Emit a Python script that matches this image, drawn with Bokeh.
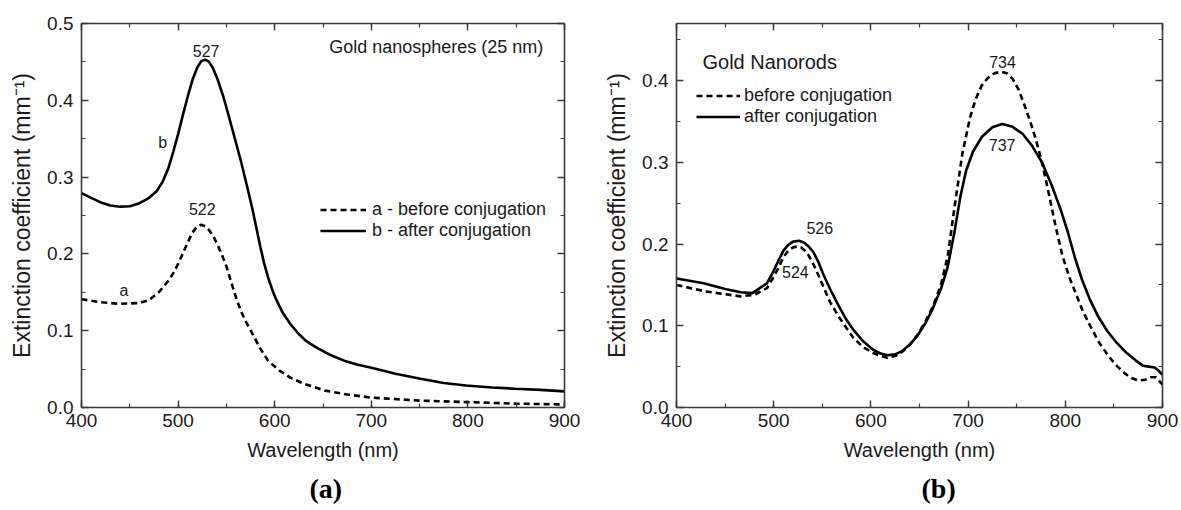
from bokeh.plotting import figure
from bokeh.layouts import row
from bokeh.models import (LinearAxis, SingleIntervalTicker, NumeralTickFormatter,
                          CustomJSTickFormatter, Label, Legend, LegendItem, Title)
from bokeh.embed import file_html
from bokeh.resources import INLINE

# ---------------- data: panel (a) gold nanospheres ----------------
a_before_wl = [400, 420, 440, 460, 470, 480, 490, 495, 500, 505, 510, 515, 520, 524, 528, 532,
               536, 540, 545, 550, 555, 561, 566, 570, 577, 585, 593, 605, 616, 630, 652, 675,
               699, 750, 800, 850, 900]
a_before_y = [0.141, 0.137, 0.135, 0.136, 0.140, 0.150, 0.165, 0.175, 0.187, 0.201, 0.215,
              0.228, 0.236, 0.238, 0.236, 0.231, 0.224, 0.214, 0.200, 0.184, 0.163, 0.139,
              0.123, 0.112, 0.096, 0.077, 0.061, 0.048, 0.039, 0.031, 0.022, 0.017, 0.013,
              0.009, 0.007, 0.005, 0.004]
a_after_wl = [400, 410, 420, 430, 440, 450, 460, 470, 478, 484, 490, 495, 500, 505, 510, 515,
              520, 524, 528, 532, 536, 541, 547, 553, 559, 565, 571, 577, 581, 585, 589, 593,
              597, 601, 608, 616, 624, 632, 642, 652, 662, 672, 685, 699, 725, 751, 775, 798,
              825, 849, 875, 900]
a_after_y = [0.279, 0.273, 0.267, 0.263, 0.2615, 0.262, 0.266, 0.273, 0.282, 0.294, 0.312,
             0.333, 0.356, 0.381, 0.405, 0.427, 0.443, 0.451, 0.453, 0.450, 0.442, 0.427,
             0.404, 0.377, 0.349, 0.321, 0.290, 0.258, 0.234, 0.210, 0.188, 0.170, 0.155,
             0.142, 0.124, 0.109, 0.097, 0.087, 0.079, 0.072, 0.066, 0.061, 0.056, 0.052,
             0.044, 0.0375, 0.032, 0.0286, 0.026, 0.0245, 0.023, 0.021]

# ---------------- data: panel (b) gold nanorods ----------------
b_before_wl = [400, 430, 466, 480, 493, 499, 505, 510, 515, 520, 524, 528, 532, 536, 541, 546,
               551, 558, 567, 575, 582, 592, 602, 610, 617, 625, 632, 640, 648, 656, 664, 672,
               679, 686, 694, 702, 708, 714, 720, 727, 734, 740, 746, 752, 758, 764, 770, 776,
               783, 790, 797, 804, 810, 818, 826, 835, 845, 853, 861, 868, 875, 882, 888, 893,
               897, 900]
b_before_y = [0.150, 0.142, 0.136, 0.138, 0.146, 0.158, 0.171, 0.184, 0.192, 0.196, 0.197,
              0.196, 0.192, 0.186, 0.175, 0.162, 0.148, 0.129, 0.111, 0.097, 0.085, 0.074,
              0.067, 0.063, 0.061, 0.063, 0.068, 0.077, 0.089, 0.105, 0.124, 0.150, 0.185,
              0.245, 0.310, 0.355, 0.378, 0.394, 0.403, 0.409, 0.411, 0.409, 0.402, 0.389,
              0.370, 0.350, 0.327, 0.300, 0.262, 0.222, 0.186, 0.160, 0.142, 0.118, 0.099,
              0.079, 0.062, 0.051, 0.042, 0.036, 0.033, 0.034, 0.037, 0.037, 0.032, 0.028]
b_after_wl = [400, 428, 450, 466, 478, 493, 499, 505, 510, 515, 520, 526, 531, 536, 541, 546,
              551, 558, 567, 575, 582, 592, 602, 610, 617, 625, 632, 640, 648, 656, 664, 672,
              679, 686, 692, 698, 705, 714, 725, 735, 745, 756, 766, 776, 786, 795, 803, 810,
              817, 825, 834, 843, 853, 862, 872, 880, 886, 892, 896, 900]
b_after_y = [0.158, 0.152, 0.145, 0.141, 0.140, 0.152, 0.165, 0.180, 0.192, 0.199, 0.203,
             0.204, 0.202, 0.197, 0.190, 0.178, 0.163, 0.145, 0.124, 0.107, 0.095, 0.081,
             0.071, 0.066, 0.064, 0.065, 0.069, 0.077, 0.088, 0.103, 0.122, 0.145, 0.172,
             0.215, 0.258, 0.290, 0.313, 0.331, 0.343, 0.347, 0.344, 0.335, 0.320, 0.300,
             0.272, 0.243, 0.213, 0.183, 0.157, 0.133, 0.111, 0.094, 0.079, 0.068, 0.058,
             0.051, 0.050, 0.049, 0.045, 0.040]

FONT = "Liberation Sans"
AXC = "#3a3a3a"
TXT = "#1a1a1a"


def style_axis(ax):
    ax.axis_line_color = AXC
    ax.axis_line_width = 1.6
    ax.major_tick_line_color = AXC
    ax.minor_tick_line_color = AXC
    ax.major_tick_line_width = 1.4
    ax.minor_tick_line_width = 1.2
    ax.major_tick_in = 7
    ax.major_tick_out = 0
    ax.minor_tick_in = 4
    ax.minor_tick_out = 0


def setup_axes(p):
    xa = p.xaxis[0]
    ya = p.yaxis[0]
    xa.ticker = SingleIntervalTicker(interval=100, num_minor_ticks=2)
    ya.ticker = SingleIntervalTicker(interval=0.1, num_minor_ticks=2)
    ya.formatter = NumeralTickFormatter(format="0.0")
    for ax in (xa, ya):
        style_axis(ax)
        ax.major_label_text_font = FONT
        ax.major_label_text_font_size = "19px"
        ax.major_label_text_color = TXT
        ax.axis_label_text_font = FONT
        ax.axis_label_text_font_style = "normal"
        ax.axis_label_text_color = TXT
    xa.axis_label_text_font_size = "20px"
    ya.axis_label_text_font_size = "23px"
    xa.axis_label = "Wavelength (nm)"
    ya.axis_label = "Extinction coefficient (mm\u207b\u00b9)"
    xa.major_label_standoff = 6
    ya.major_label_standoff = 8
    xa.axis_label_standoff = 9
    ya.axis_label_standoff = 9
    # mirrored axes (ticks only)
    for loc in ("above", "right"):
        t = SingleIntervalTicker(interval=100 if loc == "above" else 0.1, num_minor_ticks=2)
        ax = LinearAxis(ticker=t, formatter=CustomJSTickFormatter(code="return ''"))
        style_axis(ax)
        ax.major_label_standoff = 0
        p.add_layout(ax, loc)
    p.xgrid.grid_line_color = None
    p.ygrid.grid_line_color = None
    p.outline_line_color = None
    p.background_fill_color = "white"
    p.border_fill_color = "white"


def add_label(p, x, y, text, size="16px", align="center"):
    p.add_layout(Label(x=x, y=y, text=text, text_font=FONT, text_font_size=size,
                       text_color=TXT, text_align=align, text_baseline="middle"))


def panel_title(p, text, offset):
    p.add_layout(Title(text=text, align="left", offset=offset, standoff=14,
                       vertical_align="bottom", text_line_height=1.6,
                       text_font="Liberation Serif", text_font_size="28px",
                       text_font_style="bold", text_color="black"), "below")


# ---------------- panel (a) ----------------
p1 = figure(width=590, height=510, x_range=(400, 900), y_range=(0, 0.5),
            output_backend="svg", toolbar_location=None,
            min_border_left=81, min_border_right=26, min_border_top=22, min_border_bottom=103)
setup_axes(p1)
r1a = p1.line(a_before_wl, a_before_y, line_color="black", line_width=2.6, line_dash="6 4")
r1b = p1.line(a_after_wl, a_after_y, line_color="black", line_width=2.6)
leg1 = Legend(items=[LegendItem(label="a - before conjugation", renderers=[r1a]),
                     LegendItem(label="b - after conjugation", renderers=[r1b])],
              location=(239, 166), orientation="vertical", glyph_width=46, glyph_height=21,
              label_height=21, label_standoff=6, spacing=0, padding=0, margin=0,
              border_line_color=None, background_fill_alpha=0,
              label_text_font=FONT, label_text_font_size="18px", label_text_color=TXT)
p1.add_layout(leg1)
add_label(p1, 878, 0.470, "Gold nanospheres (25 nm)", size="18px", align="right")
add_label(p1, 529, 0.4636, "527")
add_label(p1, 525, 0.259, "522")
add_label(p1, 484, 0.3445, "b")
add_label(p1, 444, 0.152, "a")
panel_title(p1, "(a)", 228)

# ---------------- panel (b) ----------------
p2 = figure(width=591, height=510, x_range=(400, 900), y_range=(0, 0.47),
            output_backend="svg", toolbar_location=None,
            min_border_left=86, min_border_right=19, min_border_top=23, min_border_bottom=102)
setup_axes(p2)
r2a = p2.line(b_before_wl, b_before_y, line_color="black", line_width=2.6, line_dash="6 4")
r2b = p2.line(b_after_wl, b_after_y, line_color="black", line_width=2.6)
leg2 = Legend(items=[LegendItem(label="before conjugation", renderers=[r2a]),
                     LegendItem(label="after conjugation", renderers=[r2b])],
              location=(20, 280), orientation="vertical", glyph_width=44, glyph_height=21,
              label_height=21, label_standoff=4, spacing=0, padding=0, margin=0,
              border_line_color=None, background_fill_alpha=0,
              label_text_font=FONT, label_text_font_size="18px", label_text_color=TXT)
p2.add_layout(leg2)
add_label(p2, 426.7, 0.423, "Gold Nanorods", size="20px", align="left")
add_label(p2, 735.4, 0.423, "734")
add_label(p2, 735.0, 0.321, "737")
add_label(p2, 547.4, 0.2195, "526")
add_label(p2, 522.3, 0.166, "524")
panel_title(p2, "(b)", 245)

layout = row(p1, p2)
open("out.html", "w").write(file_html(layout, INLINE))
